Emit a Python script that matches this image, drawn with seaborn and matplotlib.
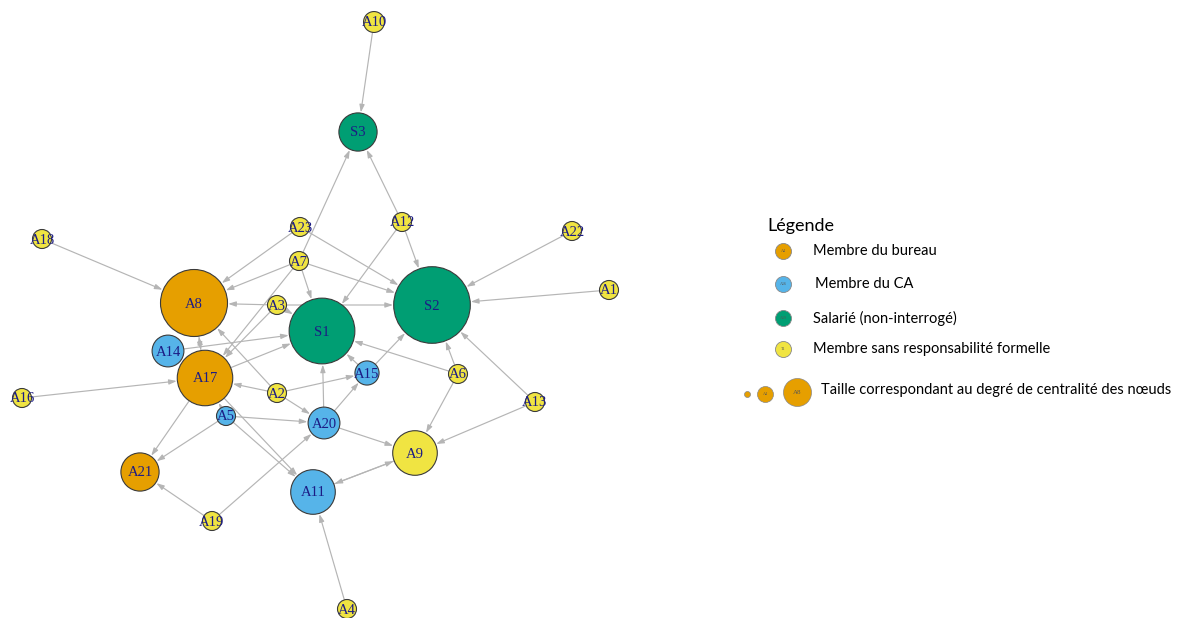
import pandas as pd
import matplotlib.pyplot as plt
import seaborn as sns

# noeuds du reseau (disposition en pixels de l'image d'origine)
noeuds = ['A10', 'S3', 'A23', 'A12', 'A22', 'A18', 'A7', 'A1', 'A8', 'A3', 'S1', 'S2', 'A14',
          'A17', 'A15', 'A6', 'A16', 'A2', 'A13', 'A5', 'A20', 'A9', 'A21', 'A11', 'A19', 'A4']
layout_x = [374, 358, 300, 402, 572, 42, 299, 609, 194, 277, 322, 432, 168,
            205, 367, 458, 22, 277, 535, 226, 324, 415, 140, 313, 212, 347]
layout_y = [22, 132, 227, 222, 231, 239, 261, 290, 303, 305, 331, 305, 351,
            378, 373, 374, 398, 393, 402, 416, 423, 453, 472, 492, 521, 609]
groupes = ['sans', 'salarie', 'sans', 'sans', 'sans', 'sans', 'sans', 'sans', 'bureau', 'sans',
           'salarie', 'salarie', 'ca', 'bureau', 'ca', 'sans', 'sans', 'sans', 'sans', 'ca',
           'ca', 'sans', 'bureau', 'ca', 'sans', 'sans']
centralite = [0.3, 3, 0, 0, 0, 0, 0, 0, 7.5, 0, 7.3, 9, 2,
              5.7, 0.8, 0, 0, 0, 0, 0, 2, 4, 3, 4, 0, 0]

# liens orientes (source -> cible)
sources = ['A10', 'A7', 'A12', 'A12', 'A12', 'A23', 'A23', 'A22', 'A1', 'A18', 'A7', 'A7',
           'A7', 'A7', 'A3', 'A3', 'A3', 'A3', 'A14', 'A17', 'A8', 'A17', 'A16', 'A2',
           'A2', 'A2', 'A5', 'A5', 'A5', 'A5', 'A2', 'A17', 'A17', 'A19', 'A19', 'A20',
           'A20', 'A15', 'A15', 'A20', 'A6', 'A6', 'A6', 'A13', 'A13', 'A11', 'A9', 'A4']
cibles = ['S3', 'S3', 'S3', 'S2', 'S1', 'A8', 'S2', 'S2', 'S2', 'A8', 'A8', 'S1',
          'S2', 'A17', 'A8', 'S1', 'S2', 'A17', 'S1', 'A8', 'A17', 'S1', 'A17', 'A17',
          'A8', 'A20', 'A17', 'A20', 'A11', 'A21', 'A15', 'A11', 'A21', 'A21', 'A20', 'S1',
          'A15', 'S1', 'S2', 'A9', 'S1', 'S2', 'A9', 'S2', 'A9', 'A9', 'A11', 'A11']

legende_groupes = ['bureau', 'ca', 'salarie', 'sans']
legende_textes = ['Membre du bureau', 'Membre du CA', 'Salarié (non-interrogé)',
                  'Membre sans responsabilité formelle']

palette = {'bureau': '#E69F00', 'ca': '#56B4E9', 'salarie': '#009E73', 'sans': '#F0E442'}

df = pd.DataFrame({'noeud': noeuds, 'x': layout_x, 'y': layout_y,
                   'groupe': groupes, 'centralite': centralite})
df['rayon'] = 9.5 + 3.2 * df['centralite']
df['aire'] = (2 * df['rayon'] * 0.72) ** 2
pos = df.set_index('noeud')

fig = plt.figure(figsize=(11.86, 6.18), dpi=100)
ax = fig.add_axes([0, 0, 1, 1])

# fleches
for s, c in zip(sources, cibles):
    ax.annotate('', xy=(pos.loc[c, 'x'], pos.loc[c, 'y']),
                xytext=(pos.loc[s, 'x'], pos.loc[s, 'y']),
                arrowprops=dict(arrowstyle='-|>,head_length=0.45,head_width=0.15',
                                color='#b5b5b5', lw=0.85,
                                shrinkA=pos.loc[s, 'rayon'] * 0.72,
                                shrinkB=pos.loc[c, 'rayon'] * 0.72 + 0.5),
                zorder=1)

tailles = dict(zip(df['centralite'], df['aire']))
sns.scatterplot(data=df, x='x', y='y', hue='groupe', palette=palette,
                size='centralite', sizes=tailles, legend=False,
                edgecolor='#3a3a3a', linewidth=0.8, alpha=1, ax=ax, zorder=3)
ax.set_xlim(0, 1186)
ax.set_ylim(618, 0)
ax.axis('off')

for _, r in df.iterrows():
    ax.text(r['x'], r['y'] + 1, r['noeud'], ha='center', va='center',
            fontsize=10.5, color='#1c1c85', family='Liberation Serif', zorder=4)

# legende
ax.text(767, 226, 'Légende', fontsize=13, family='Lato', va='center', ha='left')
ly = [251, 284, 318, 349]
lx = [813, 815, 813, 813]
mini = ['A4', 'A16', 'A19', 'T1']
for g, t, yy, xx, m in zip(legende_groupes, legende_textes, ly, lx, mini):
    ax.scatter(783, yy, s=(16 * 0.72) ** 2, color=palette[g], edgecolor='#888888',
               linewidth=0.6, zorder=3)
    ax.text(783, yy, m, fontsize=3, ha='center', va='center', color='#555555',
            family='Liberation Serif', zorder=4)
    ax.text(xx, yy, t, fontsize=10.5, family='Lato', va='center', ha='left')

for xx, yy, rr, m in zip([747, 765, 797], [394, 394, 392], [3, 8, 14], ['', 'A4', 'A8']):
    ax.scatter(xx, yy, s=(2 * rr * 0.72) ** 2, color=palette['bureau'],
               edgecolor='#888888', linewidth=0.5, zorder=3)
    ax.text(xx, yy, m, fontsize=3 if rr < 10 else 5, ha='center', va='center',
            color='#555555', family='Liberation Serif', zorder=4)
ax.text(821, 390, 'Taille correspondant au degré de centralité des nœuds',
        fontsize=10.5, family='Lato', va='center', ha='left')

plt.savefig('out.png', dpi=100)
plt.close()
